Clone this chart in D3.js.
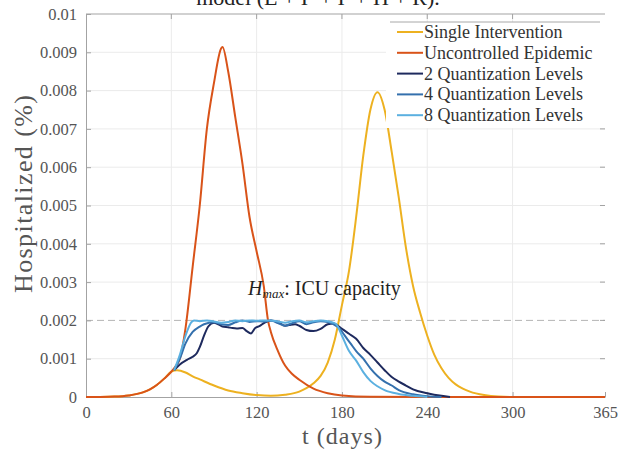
<!DOCTYPE html>
<html>
<head>
<meta charset="utf-8">
<script src="https://cdn.jsdelivr.net/npm/d3@7"></script>
<style>
  body { margin: 0; background: #fff; }
  svg { display: block; }
  text { font-family: "Liberation Serif", "DejaVu Serif", serif; }
</style>
</head>
<body>
<svg class="line-chart"></svg>
<script>
// values (t in days, H in %)
var xTicks = [0, 60, 120, 180, 240, 300, 365];
var yTicks = [0, 0.001, 0.002, 0.003, 0.004, 0.005, 0.006, 0.007, 0.008, 0.009, 0.01];
var yTickLabels = ['0', '0.001', '0.002', '0.003', '0.004', '0.005', '0.006', '0.007', '0.008', '0.009', '0.01'];
var hMax = 0.002;

var seriesNames = ['Single Intervention', 'Uncontrolled Epidemic', '2 Quantization Levels', '4 Quantization Levels', '8 Quantization Levels'];
var seriesColors = ['#EDB120', '#D95319', '#1e2a5e', '#3470ad', '#5bb0e0'];

var singleDays = [0, 10, 20, 30, 40, 45, 50, 55, 60, 64, 70, 75, 80, 90, 100, 110, 120, 130, 140, 150, 155, 160, 165, 170, 175, 180, 185, 190, 195, 200, 205, 210, 215, 220, 225, 230, 235, 240, 245, 250, 255, 260, 265, 270, 280, 290, 300, 365];
var singleVals = [0, 0.000002, 0.00001, 0.00004, 0.00012, 0.0002, 0.00032, 0.00048, 0.00066, 0.0007, 0.00064, 0.00054, 0.00046, 0.0003, 0.00017, 0.0001, 0.00005, 0.00003, 0.00006, 0.00014, 0.00023, 0.00036, 0.00055, 0.0009, 0.0015, 0.0024, 0.0033, 0.0047, 0.0063, 0.0075, 0.00796, 0.0075, 0.0064, 0.0052, 0.0039, 0.0029, 0.0022, 0.0016, 0.0011, 0.00075, 0.0005, 0.00033, 0.00022, 0.00014, 0.00005, 0.00001, 0, 0];

var uncontrolledDays = [0, 10, 20, 30, 40, 45, 50, 55, 60, 63, 66, 70, 75, 80, 85, 90, 95, 96, 100, 105, 110, 115, 120, 125, 128, 130, 135, 140, 145, 150, 160, 170, 180, 200, 240, 365];
var uncontrolledVals = [0, 0.000002, 0.00001, 0.00004, 0.00012, 0.0002, 0.00032, 0.00048, 0.00066, 0.0008, 0.001, 0.0018, 0.0034, 0.005, 0.007, 0.0082, 0.0091, 0.00914, 0.0085, 0.0073, 0.0061, 0.0047, 0.0038, 0.0029, 0.002, 0.0017, 0.0012, 0.00082, 0.0006, 0.00045, 0.00022, 0.0001, 0.00004, 0.000005, 0, 0];

var q2Days = [62, 66, 71, 75, 78, 80, 83, 86, 90, 93, 96, 100, 103, 106, 110, 113, 116, 119, 122, 126, 130, 135, 140, 143, 147, 150, 155, 160, 165, 170, 174, 180, 185, 190, 195, 200, 205, 210, 215, 220, 225, 230, 240, 250, 256];
var q2Vals = [0.0007, 0.00085, 0.00097, 0.00105, 0.00115, 0.0013, 0.0016, 0.00184, 0.00194, 0.0019, 0.00184, 0.00182, 0.0018, 0.00179, 0.0018, 0.00172, 0.00166, 0.0018, 0.00185, 0.00195, 0.002, 0.00196, 0.00186, 0.00188, 0.0019, 0.00186, 0.00175, 0.00172, 0.00178, 0.0019, 0.00192, 0.00178, 0.00165, 0.00152, 0.00128, 0.0011, 0.0009, 0.0007, 0.00052, 0.0004, 0.0003, 0.0002, 0.0001, 0.00003, 0];

var q4Days = [62, 66, 70, 75, 80, 83, 90, 95, 100, 105, 110, 115, 120, 125, 130, 135, 140, 145, 150, 155, 160, 165, 170, 174, 178, 182, 186, 190, 195, 200, 205, 210, 215, 220, 230, 240, 250];
var q4Vals = [0.0007, 0.001, 0.0014, 0.0017, 0.00184, 0.0019, 0.00195, 0.0019, 0.00188, 0.00195, 0.002, 0.00196, 0.00198, 0.00197, 0.002, 0.00193, 0.00186, 0.00193, 0.00198, 0.0019, 0.00195, 0.00198, 0.00196, 0.0019, 0.0018, 0.0016, 0.0014, 0.0012, 0.001, 0.00075, 0.00055, 0.0004, 0.0003, 0.00018, 0.00007, 0.00002, 0];

var q8Days = [62, 66, 70, 74, 76, 80, 85, 90, 95, 100, 105, 110, 115, 120, 125, 130, 135, 140, 145, 150, 155, 160, 165, 170, 173, 176, 180, 185, 190, 195, 200, 205, 210, 220, 230, 240];
var q8Vals = [0.0007, 0.0011, 0.0016, 0.00195, 0.002, 0.00198, 0.002, 0.00197, 0.00194, 0.00196, 0.002, 0.00198, 0.002, 0.00199, 0.002, 0.002, 0.00197, 0.00194, 0.00198, 0.002, 0.00195, 0.00198, 0.002, 0.00198, 0.00195, 0.0019, 0.0016, 0.0012, 0.00095, 0.00065, 0.00042, 0.00028, 0.00018, 0.00008, 0.00003, 0];

var seriesDays = [singleDays, uncontrolledDays, q2Days, q4Days, q8Days];
var seriesVals = [singleVals, uncontrolledVals, q2Vals, q4Vals, q8Vals];

var svgWidth = 624,
    svgHeight = 449;
var margin = { top: 14, right: 19, bottom: 52, left: 86 };
var width = svgWidth - margin.left - margin.right;
var height = svgHeight - margin.top - margin.bottom;
var axisColor = '#a3a3a3';
var textColor = '#555';

var svg = d3.select('.line-chart')
    .attr('width', svgWidth)
    .attr('height', svgHeight);

// title is cut off at the top of the picture, as in the source
svg.append('text')
    .attr('x', 318)
    .attr('y', 5)
    .attr('text-anchor', 'middle')
    .attr('font-size', 22)
    .attr('fill', '#222')
    .text('model (E + I\u1d43 + I\u02e2 + H + R).');

var g = svg.append('g')
    .attr('transform', 'translate(' + margin.left + ',' + margin.top + ')');

var x = d3.scaleLinear().domain([0, 365]).range([0, width]);
var y = d3.scaleLinear().domain([0, 0.01]).range([height, 0]);

// grid
g.append('g')
    .selectAll('line')
    .data(xTicks.slice(1, -1))
    .enter()
    .append('line')
    .attr('x1', function (d) { return x(d); })
    .attr('x2', function (d) { return x(d); })
    .attr('y1', 0)
    .attr('y2', height)
    .attr('stroke', '#ebebeb');

g.append('g')
    .selectAll('line')
    .data(yTicks.slice(1, -1).filter(function (d) { return d !== hMax; }))
    .enter()
    .append('line')
    .attr('x1', 0)
    .attr('x2', width)
    .attr('y1', function (d) { return y(d); })
    .attr('y2', function (d) { return y(d); })
    .attr('stroke', '#ebebeb');

// ICU capacity line
g.append('line')
    .attr('x1', 0)
    .attr('x2', width)
    .attr('y1', y(hMax))
    .attr('y2', y(hMax))
    .attr('stroke', '#b5b5b5')
    .attr('stroke-dasharray', '7,4');

// axes (MATLAB style, ticks inside)
var xAxis = g.append('g')
    .attr('transform', 'translate(0,' + height + ')')
    .call(d3.axisBottom(x).tickValues(xTicks).tickSizeInner(-5).tickSizeOuter(0).tickPadding(9));

var yAxis = g.append('g')
    .call(d3.axisLeft(y).tickValues(yTicks).tickSizeInner(-5).tickSizeOuter(0).tickPadding(9)
        .tickFormat(function (d, i) { return yTickLabels[i]; }));

[xAxis, yAxis].forEach(function (a) {
    a.attr('font-family', null);
    a.select('.domain').attr('stroke', axisColor);
    a.selectAll('.tick line').attr('stroke', axisColor);
    a.selectAll('.tick text')
        .attr('fill', textColor)
        .attr('font-size', 16.5);
});

// top border with ticks, right ticks only
g.append('line')
    .attr('x1', 0).attr('x2', width)
    .attr('y1', 0).attr('y2', 0)
    .attr('stroke', axisColor);

g.append('g')
    .selectAll('line')
    .data(xTicks.slice(1, -1))
    .enter()
    .append('line')
    .attr('x1', function (d) { return x(d); })
    .attr('x2', function (d) { return x(d); })
    .attr('y1', 0)
    .attr('y2', 5)
    .attr('stroke', axisColor);

g.append('g')
    .selectAll('line')
    .data(yTicks.slice(1, -1))
    .enter()
    .append('line')
    .attr('x1', width - 5)
    .attr('x2', width)
    .attr('y1', function (d) { return y(d); })
    .attr('y2', function (d) { return y(d); })
    .attr('stroke', axisColor);

// curves
var line = d3.line()
    .x(function (d) { return x(d.t); })
    .y(function (d) { return y(d.v); })
    .curve(d3.curveMonotoneX);

var series = seriesNames.map(function (name, i) {
    return {
        name: name,
        color: seriesColors[i],
        values: seriesDays[i].map(function (t, j) {
            return { t: t, v: seriesVals[i][j] };
        })
    };
});

g.selectAll('.series')
    .data(series)
    .enter()
    .append('path')
    .attr('class', 'series')
    .attr('fill', 'none')
    .attr('stroke', function (d) { return d.color; })
    .attr('stroke-width', 2)
    .attr('stroke-linejoin', 'round')
    .attr('d', function (d) { return line(d.values); });

// annotation
var note = g.append('text')
    .attr('x', x(114))
    .attr('y', y(hMax) - 25)
    .attr('font-size', 20)
    .attr('fill', '#222');
note.append('tspan').attr('font-style', 'italic').text('H');
note.append('tspan').attr('font-style', 'italic').attr('font-size', 13).attr('dy', 3).text('max');
note.append('tspan').attr('dy', -3).text(': ICU capacity');

// legend
var legend = g.append('g')
    .attr('transform', 'translate(' + (width - 219) + ',8)');

legend.append('rect')
    .attr('width', 219)
    .attr('height', 106)
    .attr('fill', '#fff');

legend.append('line')
    .attr('x1', 4).attr('x2', 214)
    .attr('y1', 0).attr('y2', 0)
    .attr('stroke', '#a8a8a8');

var item = legend.selectAll('.item')
    .data(series)
    .enter()
    .append('g')
    .attr('class', 'item')
    .attr('transform', function (d, i) { return 'translate(0,' + (10 + i * 20.8) + ')'; });

item.append('line')
    .attr('x1', 11).attr('x2', 37)
    .attr('stroke', function (d) { return d.color; })
    .attr('stroke-width', 2);

item.append('text')
    .attr('x', 38)
    .attr('dy', '0.33em')
    .attr('font-size', 18)
    .attr('fill', '#333')
    .text(function (d) { return d.name; });

// axis labels
svg.append('text')
    .attr('x', margin.left + x(180))
    .attr('y', 444)
    .attr('text-anchor', 'middle')
    .attr('font-size', 24)
    .attr('textLength', 80)
    .attr('fill', textColor)
    .text('t (days)');

svg.append('text')
    .attr('transform', 'translate(32,194) rotate(-90)')
    .attr('text-anchor', 'middle')
    .attr('font-size', 26)
    .attr('textLength', 198)
    .attr('fill', textColor)
    .text('Hospitalized (%)');
</script>
</body>
</html>
